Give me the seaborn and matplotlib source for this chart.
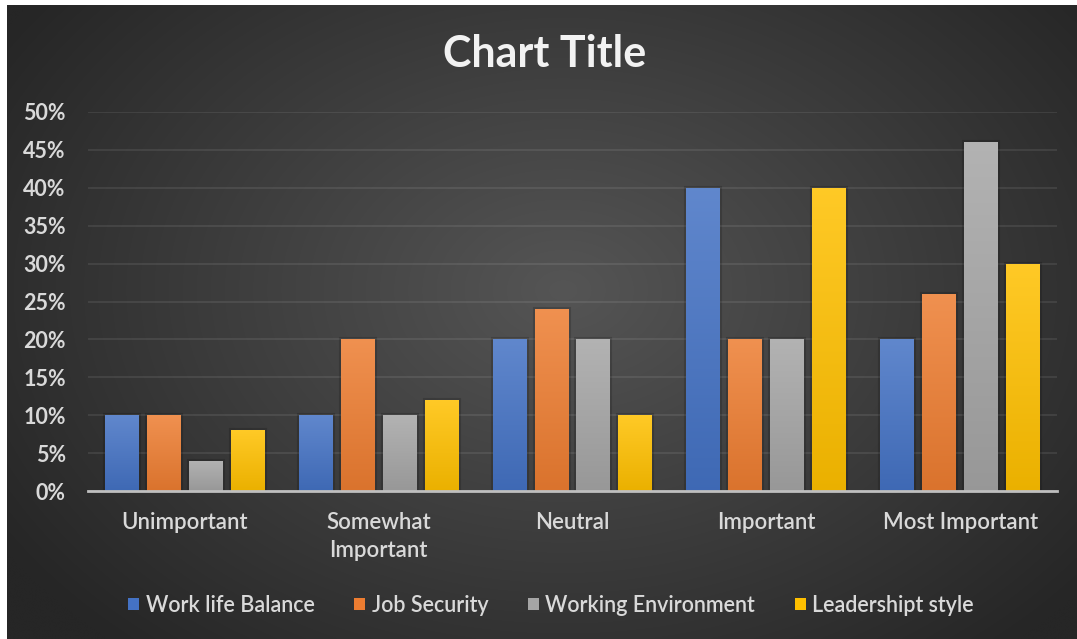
import numpy as np
import pandas as pd
import matplotlib
matplotlib.use("Agg")
import matplotlib.pyplot as plt
import seaborn as sns
from matplotlib.colors import to_rgb
from matplotlib.ticker import PercentFormatter, FixedLocator
from matplotlib import patheffects as pe

# Survey results: share of respondents per importance level (percent)
categories = ["Unimportant", "Somewhat\nImportant", "Neutral", "Important", "Most Important"]
series_names = ["Work life Balance", "Job Security", "Working Environment", "Leadershipt style"]
work_life_balance = [10, 10, 20, 40, 20]
job_security = [10, 20, 24, 20, 26]
working_environment = [4, 10, 20, 20, 46]
leadership_style = [8, 12, 10, 40, 30]
y_ticks = [0, 5, 10, 15, 20, 25, 30, 35, 40, 45, 50]

series_colors = ["#4472C4", "#ED7D31", "#A5A5A5", "#FFC000"]
text_color = "#d9d9d9"

W, H = 1077, 639

rows = []
for name, vals in zip(series_names,
                      [work_life_balance, job_security, working_environment, leadership_style]):
    for cat, v in zip(categories, vals):
        rows.append({"category": cat, "series": name, "value": v / 100.0})
df = pd.DataFrame(rows)

sns.set_theme(style="dark")
plt.rcParams["font.family"] = ["Lato", "DejaVu Sans"]

fig = plt.figure(figsize=(W / 100, H / 100), dpi=100, facecolor="white")

# Dark radial backdrop of the chart area
bg = fig.add_axes([7 / W, 0, 1 - 7 / W, 1 - 5 / H])
bg.set_axis_off()
gy, gx = np.mgrid[0:1:400j, 0:1:700j]
dist = np.sqrt(((gx - 0.52) / 0.62) ** 2 + ((gy - 0.45) / 0.75) ** 2)
dist = np.clip(dist, 0, 1)
c_in = np.array(to_rgb("#555555"))
c_out = np.array(to_rgb("#262626"))
grad = c_in[None, None, :] * (1 - dist[..., None]) + c_out[None, None, :] * dist[..., None]
bg.imshow(grad, extent=[0, 1, 0, 1], aspect="auto", origin="upper", interpolation="bicubic")
bg.set_xlim(0, 1)
bg.set_ylim(0, 1)

ax = fig.add_axes([88 / W, 1 - 491 / H, (1057 - 88) / W, (491 - 112) / H])
ax.patch.set_alpha(0)

sns.barplot(data=df, x="category", y="value", hue="series", order=categories,
            hue_order=series_names, palette=series_colors, saturation=1,
            width=0.866, gap=0.19, ax=ax, legend=True,
            linewidth=0, edgecolor="none")

# Soft vertical shading and a faint dark halo on each bar
for patch in list(ax.patches):
    h = patch.get_height()
    if h <= 0:
        continue
    x0 = patch.get_x()
    x1 = x0 + patch.get_width()
    base = np.array(to_rgb(patch.get_facecolor()))
    top = base * 0.85 + 0.15
    bottom = base * 0.92
    t = np.linspace(0, 1, 64)[:, None]
    col = top[None, :] * (1 - t) + bottom[None, :] * t
    img = np.repeat(col[:, None, :], 2, axis=1)
    patch.set_path_effects([pe.Stroke(linewidth=3, foreground=(0, 0, 0, 0.16)),
                            pe.Normal()])
    im = ax.imshow(img, extent=[x0, x1, 0, h], aspect="auto", origin="upper",
                   interpolation="bilinear", zorder=patch.get_zorder() + 0.1)
    im.set_clip_path(patch)

ax.set_xlim(-0.5, len(categories) - 0.5)
ax.set_ylim(0, 0.5)
ax.yaxis.set_major_locator(FixedLocator([v / 100 for v in y_ticks]))
ax.yaxis.set_major_formatter(PercentFormatter(1, decimals=0))
ax.yaxis.grid(True, color="white", alpha=0.09, lw=1.3)
ax.xaxis.grid(False)
ax.set_axisbelow(True)
for side in ["left", "right", "top"]:
    ax.spines[side].set_visible(False)
ax.spines["bottom"].set_color("#bfbfbf")
ax.spines["bottom"].set_linewidth(2)
ax.spines["bottom"].set_zorder(5)
ax.set_xlabel("")
ax.set_ylabel("")
ax.tick_params(axis="y", length=0, pad=16, labelsize=15.5, labelcolor=text_color)
ax.tick_params(axis="x", length=0, pad=15, labelsize=16, labelcolor=text_color)
for lab in ax.get_yticklabels():
    lab.set_fontweight("bold")
for lab in ax.get_xticklabels():
    lab.set_verticalalignment("top")
    lab.set_linespacing(1.4)
    lab.set_fontweight("semibold")

handles, labels = ax.get_legend_handles_labels()
leg = ax.legend(handles, labels, loc="center", bbox_to_anchor=(551 / W, 1 - 605 / H),
                bbox_transform=fig.transFigure, ncol=4, frameon=False, fontsize=15.5,
                labelcolor=text_color, handlelength=0.5, handleheight=0.5,
                handletextpad=0.3, columnspacing=1.85)
for txt in leg.get_texts():
    txt.set_fontweight("semibold")

fig.text(545 / W, 1 - 54 / H, "Chart Title", ha="center", va="center",
         fontsize=31, fontweight="bold", color="#f2f2f2")

fig.savefig("out.png", dpi=100, facecolor=fig.get_facecolor())
